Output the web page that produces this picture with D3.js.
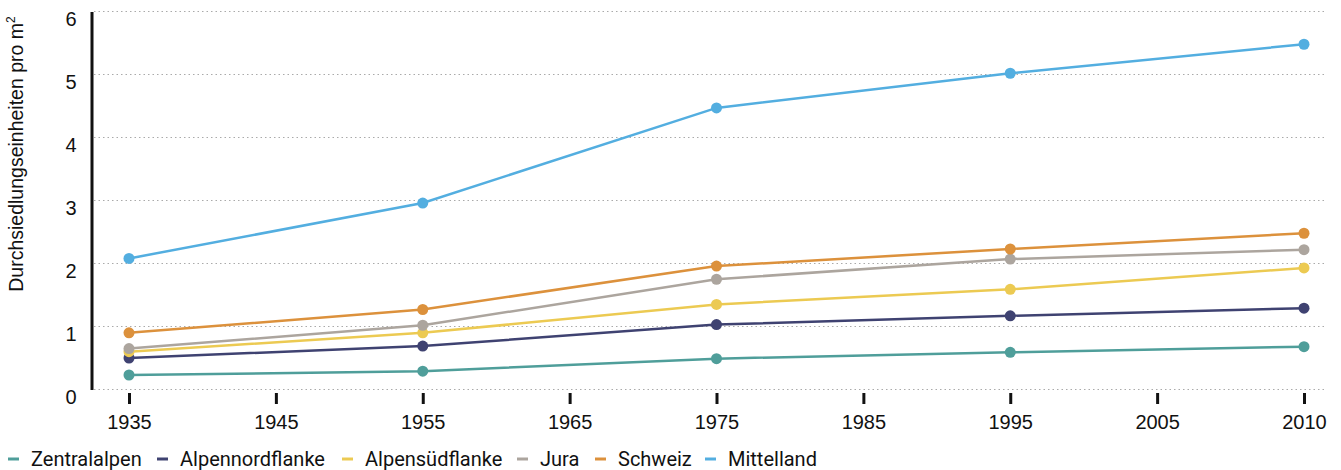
<!DOCTYPE html>
<html><head><meta charset="utf-8">
<script src="https://cdn.jsdelivr.net/npm/d3@7"></script>
<style>
body{margin:0;background:#fff;}
svg text{font-family:"Liberation Sans",Arial,sans-serif;fill:#111;}
.legend text{font-family:Roboto,"Liberation Sans",sans-serif;}
</style></head>
<body>
<svg id="chart" width="1341" height="470"></svg>
<script>
const xLabels = ["1935","1945","1955","1965","1975","1985","1995","2005","2010"];
const years = ["1935","1955","1975","1995","2010"];
const seriesNames = ["Zentralalpen","Alpennordflanke","Alpensüdflanke","Jura","Schweiz","Mittelland"];
const seriesColors = ["#4f9e9a","#3f4271","#ecca52","#aca59e","#dc913c","#53aee0"];
const zentralalpen = [0.23,0.29,0.49,0.59,0.68];
const alpennordflanke = [0.50,0.69,1.03,1.17,1.29];
const alpensuedflanke = [0.60,0.90,1.35,1.59,1.93];
const jura = [0.65,1.02,1.75,2.07,2.22];
const schweiz = [0.90,1.27,1.96,2.23,2.48];
const mittelland = [2.08,2.96,4.47,5.02,5.48];
const yTicks = [0,1,2,3,4,5,6];

const seriesValues = [zentralalpen,alpennordflanke,alpensuedflanke,jura,schweiz,mittelland];

const svg = d3.select("#chart");
const x = d3.scalePoint().domain(xLabels).range([129,1304]);
const y = d3.scaleLinear().domain([0,6]).range([389.5,11.5]);

// grid
svg.append("g").selectAll("line").data(yTicks).join("line")
  .attr("x1",94).attr("x2",1326)
  .attr("y1",d=>y(d)).attr("y2",d=>y(d))
  .attr("stroke","#aaa").attr("stroke-width",1).attr("stroke-dasharray","1.5,3");

// y axis
const yAxis = svg.append("g").attr("transform","translate(91.5,0)")
  .call(d3.axisLeft(y).tickValues(yTicks).tickFormat(d3.format("d")).tickSize(0).tickPadding(15));
yAxis.select(".domain").attr("stroke","#111").attr("stroke-width",3);
yAxis.selectAll("text").style("font-size","20px").attr("dy","0.7em");

// x axis
const xAxis = svg.append("g").attr("transform","translate(0,393)")
  .call(d3.axisBottom(x).tickSize(11).tickPadding(11));
xAxis.select(".domain").remove();
xAxis.selectAll(".tick line").attr("stroke","#111").attr("stroke-width",3);
xAxis.selectAll("text").style("font-size","20px");

// y title
svg.append("text").attr("transform","translate(23,154) rotate(-90)")
  .attr("text-anchor","middle").style("font-size","19.5px")
  .html('Durchsiedlungseinheiten pro m<tspan dy="-8" style="font-size:12px">2</tspan>');

// lines
const line = d3.line().x((d,i)=>x(years[i])).y(d=>y(d));
seriesValues.forEach((vals,k)=>{
  const g = svg.append("g");
  g.append("path").datum(vals).attr("d",line).attr("fill","none")
    .attr("stroke",seriesColors[k]).attr("stroke-width",2.5);
  g.selectAll("circle").data(vals).join("circle")
    .attr("cx",(d,i)=>x(years[i])).attr("cy",d=>y(d)).attr("r",5.5)
    .attr("fill",seriesColors[k]);
});

// legend
const legendX = [8,157,342,517,595,705];
const lg = svg.append("g").attr("class","legend");
seriesNames.forEach((n,k)=>{
  lg.append("line").attr("x1",legendX[k]).attr("x2",legendX[k]+11)
    .attr("y1",459).attr("y2",459).attr("stroke",seriesColors[k]).attr("stroke-width",3);
  lg.append("text").attr("x",legendX[k]+23).attr("y",459).attr("dy","0.35em")
    .style("font-size","20px").text(n);
});
</script>
</body></html>
